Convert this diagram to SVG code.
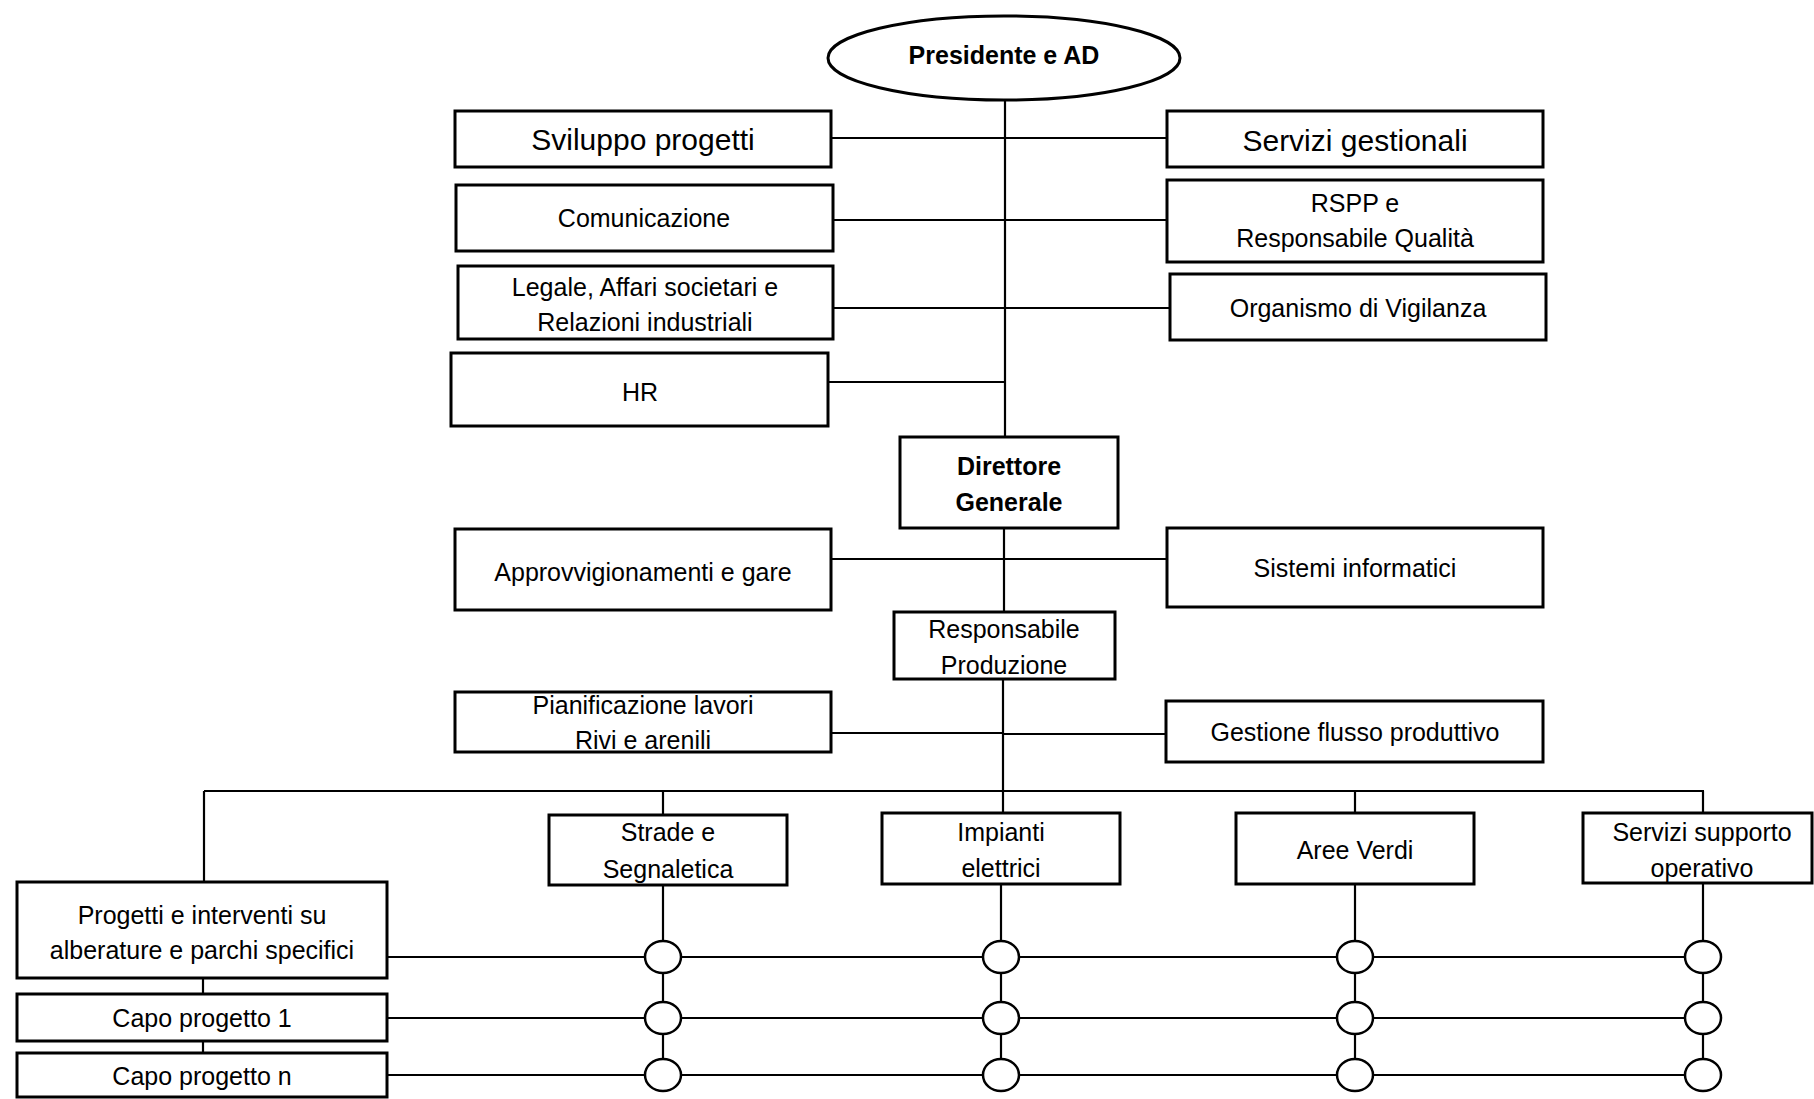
<svg xmlns="http://www.w3.org/2000/svg" width="1814" height="1099" viewBox="0 0 1814 1099">
<style>
.box{fill:#fff;stroke:#000;stroke-width:3}
.ln{stroke:#000;stroke-width:2.2;fill:none}
.jn{fill:#fff;stroke:#000;stroke-width:2.5}
text{font-family:"Liberation Sans",Arial,sans-serif;font-size:25px;fill:#000;text-anchor:middle;dominant-baseline:central}
.big{font-size:30px}
.b{font-weight:bold}
</style>
<rect width="1814" height="1099" fill="#fff"/>
<g id="connectors">
<line class="ln" x1="1005" y1="100" x2="1005" y2="437"/>
<line class="ln" x1="831" y1="138" x2="1167" y2="138"/>
<line class="ln" x1="833" y1="220" x2="1167" y2="220"/>
<line class="ln" x1="833" y1="308" x2="1170" y2="308"/>
<line class="ln" x1="828" y1="382" x2="1005" y2="382"/>
<line class="ln" x1="1004" y1="528" x2="1004" y2="612"/>
<line class="ln" x1="831" y1="559" x2="1167" y2="559"/>
<line class="ln" x1="1003" y1="679" x2="1003" y2="813"/>
<line class="ln" x1="831" y1="733" x2="1003" y2="733"/>
<line class="ln" x1="1003" y1="734" x2="1166" y2="734"/>
<line class="ln" x1="204" y1="791" x2="1704" y2="791"/>
<line class="ln" x1="204" y1="791" x2="204" y2="882"/>
<line class="ln" x1="663" y1="791" x2="663" y2="815"/>
<line class="ln" x1="1355" y1="791" x2="1355" y2="813"/>
<line class="ln" x1="1703" y1="791" x2="1703" y2="813"/>
<line class="ln" x1="203" y1="978" x2="203" y2="994"/>
<line class="ln" x1="203" y1="1041" x2="203" y2="1053"/>
<line class="ln" x1="663" y1="885" x2="663" y2="1075"/>
<line class="ln" x1="1001" y1="884" x2="1001" y2="1075"/>
<line class="ln" x1="1355" y1="884" x2="1355" y2="1075"/>
<line class="ln" x1="1703" y1="883" x2="1703" y2="1075"/>
<line class="ln" x1="387" y1="957" x2="1703" y2="957"/>
<line class="ln" x1="387" y1="1018" x2="1703" y2="1018"/>
<line class="ln" x1="387" y1="1075" x2="1703" y2="1075"/>
</g>
<g id="junctions">
<ellipse class="jn" cx="663" cy="957" rx="18" ry="16"/>
<ellipse class="jn" cx="663" cy="1018" rx="18" ry="16"/>
<ellipse class="jn" cx="663" cy="1075" rx="18" ry="16"/>
<ellipse class="jn" cx="1001" cy="957" rx="18" ry="16"/>
<ellipse class="jn" cx="1001" cy="1018" rx="18" ry="16"/>
<ellipse class="jn" cx="1001" cy="1075" rx="18" ry="16"/>
<ellipse class="jn" cx="1355" cy="957" rx="18" ry="16"/>
<ellipse class="jn" cx="1355" cy="1018" rx="18" ry="16"/>
<ellipse class="jn" cx="1355" cy="1075" rx="18" ry="16"/>
<ellipse class="jn" cx="1703" cy="957" rx="18" ry="16"/>
<ellipse class="jn" cx="1703" cy="1018" rx="18" ry="16"/>
<ellipse class="jn" cx="1703" cy="1075" rx="18" ry="16"/>
</g>
<g id="presidente"><ellipse class="box" cx="1004" cy="58" rx="176" ry="42" stroke-width="2"/><text class="b" x="1004" y="55">Presidente e AD</text></g>
<g id="sviluppo"><rect class="box" x="455" y="111" width="376" height="56"/><text class="big" x="643" y="139">Sviluppo progetti</text></g>
<g id="comunicazione"><rect class="box" x="456" y="185" width="377" height="66"/><text x="644" y="218">Comunicazione</text></g>
<g id="legale"><rect class="box" x="458" y="266" width="375" height="73"/><text x="645" y="287">Legale, Affari societari e</text><text x="645" y="322">Relazioni industriali</text></g>
<g id="hr"><rect class="box" x="451" y="353" width="377" height="73"/><text x="640" y="392">HR</text></g>
<g id="servizi-gestionali"><rect class="box" x="1167" y="111" width="376" height="56"/><text class="big" x="1355" y="140">Servizi gestionali</text></g>
<g id="rspp"><rect class="box" x="1167" y="180" width="376" height="82"/><text x="1355" y="203">RSPP e</text><text x="1355" y="238">Responsabile Qualità</text></g>
<g id="organismo"><rect class="box" x="1170" y="274" width="376" height="66"/><text x="1358" y="308">Organismo di Vigilanza</text></g>
<g id="direttore"><rect class="box" x="900" y="437" width="218" height="91"/><text class="b" x="1009" y="466">Direttore</text><text class="b" x="1009" y="502">Generale</text></g>
<g id="approvvigionamenti"><rect class="box" x="455" y="529" width="376" height="81"/><text x="643" y="572">Approvvigionamenti e gare</text></g>
<g id="sistemi"><rect class="box" x="1167" y="528" width="376" height="79"/><text x="1355" y="568">Sistemi informatici</text></g>
<g id="responsabile-produzione"><rect class="box" x="894" y="612" width="221" height="67"/><text x="1004" y="629">Responsabile</text><text x="1004" y="665">Produzione</text></g>
<g id="pianificazione"><rect class="box" x="455" y="692" width="376" height="60"/><text x="643" y="705">Pianificazione lavori</text><text x="643" y="740">Rivi e arenili</text></g>
<g id="gestione"><rect class="box" x="1166" y="701" width="377" height="61"/><text x="1355" y="732">Gestione flusso produttivo</text></g>
<g id="strade"><rect class="box" x="549" y="815" width="238" height="70"/><text x="668" y="832">Strade e</text><text x="668" y="869">Segnaletica</text></g>
<g id="impianti"><rect class="box" x="882" y="813" width="238" height="71"/><text x="1001" y="832">Impianti</text><text x="1001" y="868">elettrici</text></g>
<g id="aree-verdi"><rect class="box" x="1236" y="813" width="238" height="71"/><text x="1355" y="850">Aree Verdi</text></g>
<g id="servizi-supporto"><rect class="box" x="1583" y="813" width="229" height="70"/><text x="1702" y="832">Servizi supporto</text><text x="1702" y="868">operativo</text></g>
<g id="progetti"><rect class="box" x="17" y="882" width="370" height="96"/><text x="202" y="915">Progetti e interventi su</text><text x="202" y="950">alberature e parchi specifici</text></g>
<g id="capo1"><rect class="box" x="17" y="994" width="370" height="47"/><text x="202" y="1018">Capo progetto 1</text></g>
<g id="capon"><rect class="box" x="17" y="1053" width="370" height="44"/><text x="202" y="1076">Capo progetto n</text></g>
</svg>
